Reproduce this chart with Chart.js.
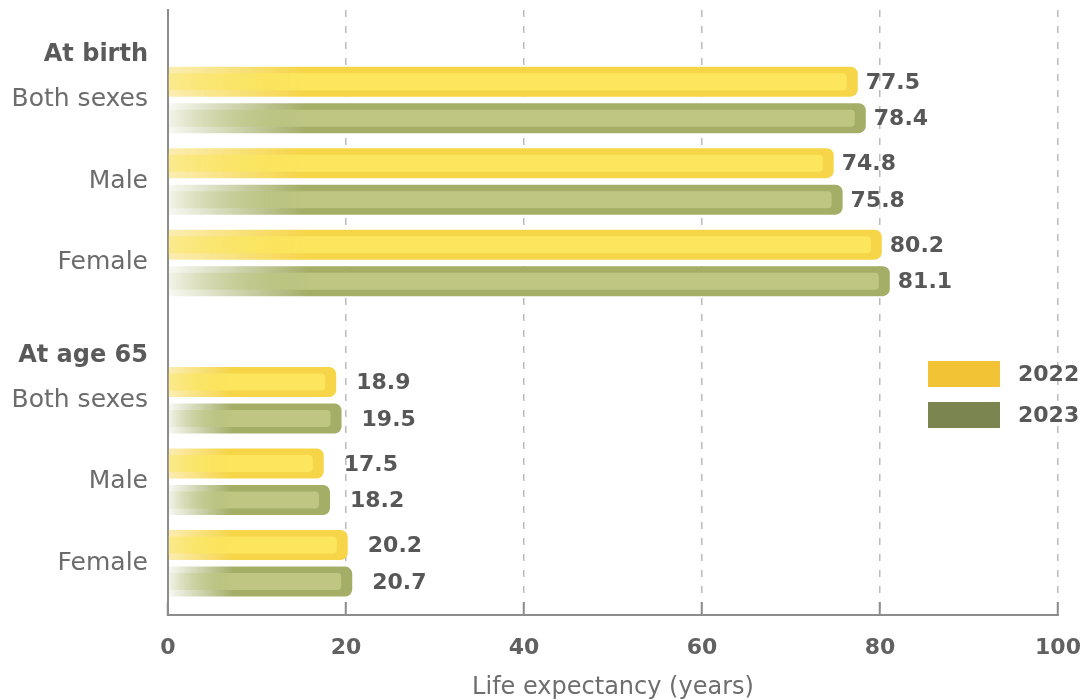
<!DOCTYPE html>
<html>
<head>
<meta charset="utf-8">
<script src="https://cdn.jsdelivr.net/npm/chart.js@4.4.1/dist/chart.umd.min.js"></script>
<style>
  html, body { margin: 0; padding: 0; background: #ffffff; }
  #wrap { width: 1086px; height: 700px; position: relative; }
</style>
</head>
<body>
<div id="wrap"><canvas id="chart"></canvas></div>
<script>
// ---- data ----
const groupTitles = ['At birth', 'At age 65'];
const rowLabels = ['Both sexes', 'Male', 'Female', 'Both sexes', 'Male', 'Female'];
const rowGroup = [0, 0, 0, 1, 1, 1];
const seriesNames = ['2022', '2023'];
const values2022 = [77.5, 74.8, 80.2, 18.9, 17.5, 20.2];
const values2023 = [78.4, 75.8, 81.1, 19.5, 18.2, 20.7];
const xTickValues = [0, 20, 40, 60, 80, 100];
const axisTitle = 'Life expectancy (years)';

// ---- layout (row units on the y axis, pixels elsewhere) ----
const GROUP_EXTRA_GAP = 0.686;   // extra space before the second group
const HEADER_LIFT = 0.55;        // group title sits this far above its first row
const AXIS_LEAD = 1.103;         // room above the first row
const AXIS_TAIL = 0.634;         // room below the last row
const FONT = 'DejaVu Sans';

const STYLE = {
  '2022': { rim: '246,213,72', core: '251,230,94', fade: 0.42, legend: '#F2C335' },
  '2023': { rim: '164,174,103', core: '190,198,130', fade: 0.08, legend: '#7A8550' }
};
const LABEL_GAP = [8, 20];       // value label distance from bar end, per group

const rowPos = rowLabels.map((_, i) => i + rowGroup[i] * GROUP_EXTRA_GAP);
const seriesValues = [values2022, values2023];

function fadeGradient(ctx, x0, x1, rgb, a0) {
  if (!isFinite(x0) || !isFinite(x1)) return 'rgb(' + rgb + ')';
  const len = Math.max(1, x1 - x0);
  const g = ctx.createLinearGradient(x0, 0, x0 + Math.min(len, 40 + 0.14 * len), 0);
  g.addColorStop(0, 'rgba(' + rgb + ',' + a0 + ')');
  g.addColorStop(1, 'rgba(' + rgb + ',1)');
  return g;
}

function barFill(name) {
  const st = STYLE[name];
  return (c) => {
    const xs = c.chart.scales.x;
    if (c.type !== 'data' || !xs || !c.parsed) return 'rgb(' + st.rim + ')';
    return fadeGradient(c.chart.ctx, xs.getPixelForValue(0), xs.getPixelForValue(c.parsed.x), st.rim, st.fade);
  };
}

function noEdgePadding(s) {
  s.paddingTop = 0; s.paddingBottom = 0; s.paddingLeft = 0; s.paddingRight = 0;
}

// inner highlight stripe + value labels on every bar
const barDecor = {
  id: 'barDecor',
  afterDatasetsDraw(chart) {
    const ctx = chart.ctx;
    chart.data.datasets.forEach((ds, di) => {
      const st = STYLE[ds.label];
      const meta = chart.getDatasetMeta(di);
      meta.data.forEach((bar, i) => {
        const p = bar.getProps(['x', 'y', 'base', 'height'], true);
        const top = p.y - p.height / 2 + 6.5;
        const h = p.height - 13;
        const right = p.x - 11;
        ctx.save();
        ctx.fillStyle = fadeGradient(ctx, p.base, p.x, st.core, st.fade);
        ctx.beginPath();
        ctx.roundRect(p.base, top, right - p.base, h, [0, 4, 4, 0]);
        ctx.fill();
        ctx.restore();

        const v = ds.data[i].x;
        ctx.save();
        ctx.font = 'bold 22px "' + FONT + '"';
        ctx.fillStyle = '#575757';
        ctx.textAlign = 'left';
        ctx.textBaseline = 'middle';
        ctx.fillText(v.toFixed(1), p.x + LABEL_GAP[rowGroup[i]], p.y + 1.5);
        ctx.restore();
      });
    });
  }
};

// group titles and legend
const annotations = {
  id: 'annotations',
  afterDraw(chart) {
    const ctx = chart.ctx;
    const ys = chart.scales.y;
    const area = chart.chartArea;
    groupTitles.forEach((title, g) => {
      const first = rowGroup.indexOf(g);
      const y = ys.getPixelForValue(rowPos[first] - HEADER_LIFT);
      ctx.save();
      ctx.font = 'bold 24px "' + FONT + '"';
      ctx.fillStyle = '#5a5a5a';
      ctx.textAlign = 'right';
      ctx.textBaseline = 'middle';
      ctx.fillText(title, ys.right - 20, y);
      ctx.restore();
    });
    seriesNames.forEach((name, s) => {
      const bx = area.right - 130;
      const by = area.top + 351 + s * 41;
      ctx.save();
      ctx.fillStyle = STYLE[name].legend;
      ctx.fillRect(bx, by, 72, 26);
      ctx.font = 'bold 22px "' + FONT + '"';
      ctx.fillStyle = '#585858';
      ctx.textAlign = 'left';
      ctx.textBaseline = 'middle';
      ctx.fillText(name, bx + 90, by + 14);
      ctx.restore();
    });
  }
};

Chart.defaults.font.family = FONT;

new Chart(document.getElementById('chart'), {
  type: 'bar',
  data: {
    datasets: seriesNames.map((name, s) => ({
      label: name,
      data: seriesValues[s].map((v, i) => ({ x: v, y: rowPos[i] })),
      backgroundColor: barFill(name),
      borderWidth: 0,
      borderSkipped: false,
      borderRadius: { topLeft: 0, bottomLeft: 0, topRight: 7, bottomRight: 7 },
      categoryPercentage: 0.896,
      barPercentage: 0.822
    }))
  },
  options: {
    indexAxis: 'y',
    responsive: true,
    maintainAspectRatio: false,
    animation: false,
    layout: { padding: { top: 10, right: 28, left: 0, bottom: 0 } },
    plugins: { legend: { display: false }, tooltip: { enabled: false } },
    scales: {
      y: {
        type: 'linear',
        reverse: true,
        offset: false,
        min: -AXIS_LEAD,
        max: rowPos[rowPos.length - 1] + AXIS_TAIL,
        afterBuildTicks: (s) => { s.ticks = rowPos.map(v => ({ value: v })); },
        afterFit: (s) => { s.width = 168; noEdgePadding(s); },
        grid: { display: false, drawTicks: false, offset: false },
        border: { display: true, color: '#8c8c8c', width: 2 },
        ticks: {
          autoSkip: false,
          padding: 20,
          color: '#6c6c6c',
          font: { size: 25, family: FONT },
          callback: (value, index) => rowLabels[index]
        }
      },
      x: {
        type: 'linear',
        min: 0,
        max: 100,
        afterBuildTicks: (s) => { s.ticks = xTickValues.map(v => ({ value: v })); },
        afterFit: (s) => { s.height = 85; noEdgePadding(s); },
        grid: {
          color: '#b9b9b9',
          lineWidth: 1.5,
          drawTicks: true,
          tickLength: -13,
          tickColor: '#8c8c8c',
          tickWidth: 2
        },
        border: { display: true, color: '#8c8c8c', width: 2, dash: [7, 9] },
        ticks: {
          autoSkip: false,
          padding: 33,
          color: '#616161',
          font: { size: 22, weight: 'bold', family: FONT }
        },
        title: {
          display: true,
          text: axisTitle,
          color: '#6e6e6e',
          font: { size: 24, lineHeight: 1, family: FONT },
          padding: 0
        }
      }
    }
  },
  plugins: [barDecor, annotations]
});
</script>
</body>
</html>
